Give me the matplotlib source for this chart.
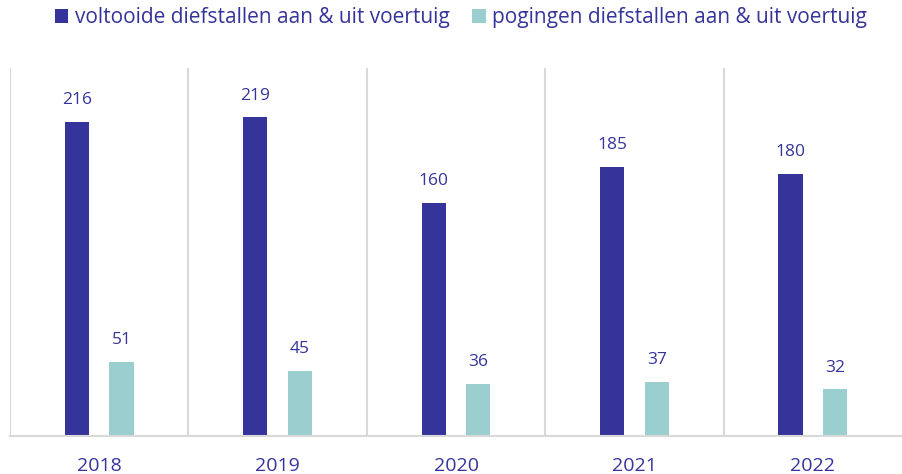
import matplotlib.pyplot as plt
import numpy as np

# data
years = ['2018', '2019', '2020', '2021', '2022']
voltooid = [216, 219, 160, 185, 180]
pogingen = [51, 45, 36, 37, 32]
labels = ['voltooide diefstallen aan & uit voertuig',
          'pogingen diefstallen aan & uit voertuig']

dark = '#35349A'
teal = '#9BCFCF'
txt = '#35349A'

plt.rcParams['font.family'] = ['Open Sans', 'DejaVu Sans']

fig = plt.figure(figsize=(9.02, 4.74), dpi=100)
ax = fig.add_axes([0.0111, 0.0802, 0.9889, 0.7763])

x = np.arange(len(years))
w = 0.135
b1 = ax.bar(x - 0.125, voltooid, w, color=dark, label=labels[0])
b2 = ax.bar(x + 0.125, pogingen, w, color=teal, label=labels[1])

for bars, vals in ((b1, voltooid), (b2, pogingen)):
    for r, v in zip(bars, vals):
        ax.text(r.get_x() + r.get_width() / 2, v + 15, str(v),
                ha='center', va='center', fontsize=12.5, color=txt)

ax.set_xlim(-0.5, len(years) - 0.5)
ax.set_ylim(0, 253)

# vertical separators between the years
for s in np.arange(-0.5, len(years) - 0.5):
    ax.axvline(s, color='#D9D9D9', lw=1.5, zorder=0)

for sp in ['top', 'right', 'left']:
    ax.spines[sp].set_visible(False)
ax.spines['bottom'].set_color('#D9D9D9')
ax.spines['bottom'].set_linewidth(1.5)

ax.set_yticks([])
ax.set_xticks(x)
ax.set_xticklabels(years, fontsize=14, color=txt)
ax.tick_params(axis='x', length=0, pad=15)

fig.legend(loc='upper center', bbox_to_anchor=(0.511, 1.025), ncol=2,
           frameon=False, fontsize=15, labelcolor=txt,
           handlelength=0.65, handleheight=0.65, handletextpad=0.3,
           columnspacing=1.1)

fig.savefig('out.png', dpi=100)
